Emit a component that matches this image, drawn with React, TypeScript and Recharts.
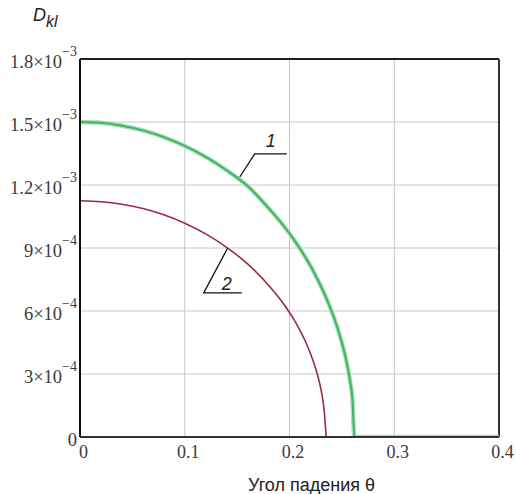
import React from 'react';
import {
  ComposedChart,
  Line,
  Scatter,
  XAxis,
  YAxis,
  CartesianGrid,
  ReferenceLine,
} from 'recharts';

// Curve 1 (green): incidence angle θ vs D_kl
const curve1Theta = [0, 0.02, 0.04, 0.06, 0.08, 0.1, 0.12, 0.14, 0.16, 0.18, 0.19, 0.2, 0.205, 0.21, 0.215, 0.22, 0.225, 0.23, 0.235, 0.24, 0.245, 0.25, 0.255, 0.258, 0.26, 0.262, 0.4];
const curve1D = [1.5e-3, 1.496e-3, 1.482e-3, 1.46e-3, 1.428e-3, 1.386e-3, 1.334e-3, 1.27e-3, 1.195e-3, 1.09e-3, 1.033e-3, 0.969e-3, 0.934e-3, 0.897e-3, 0.857e-3, 0.815e-3, 0.768e-3, 0.718e-3, 0.663e-3, 0.602e-3, 0.532e-3, 0.449e-3, 0.345e-3, 0.261e-3, 0.186e-3, 0, 0];

// Curve 2 (red)
const curve2Theta = [0, 0.02, 0.04, 0.06, 0.08, 0.1, 0.12, 0.14, 0.16, 0.18, 0.19, 0.2, 0.205, 0.21, 0.215, 0.22, 0.225, 0.228, 0.23, 0.232, 0.233, 0.235];
const curve2D = [1.125e-3, 1.12e-3, 1.108e-3, 1.088e-3, 1.058e-3, 1.018e-3, 0.967e-3, 0.903e-3, 0.824e-3, 0.723e-3, 0.663e-3, 0.593e-3, 0.553e-3, 0.508e-3, 0.457e-3, 0.398e-3, 0.326e-3, 0.272e-3, 0.228e-3, 0.17e-3, 0.13e-3, 0];

// Leader lines for curve labels
const leader1Theta = [0.1525, 0.1668, 0.1974];
const leader1D = [1.238e-3, 1.348e-3, 1.348e-3];
const leader2Theta = [0.141, 0.1181, 0.1544];
const leader2D = [0.9e-3, 0.686e-3, 0.686e-3];

const curveLabels = ['1', '2'];
const curveLabelTheta = [0.1821, 0.14];
const curveLabelD = [1.381e-3, 0.7e-3];

// Axis ticks
const xTicks = [0, 0.1, 0.2, 0.3, 0.4];
const xTickLabels = ['0', '0.1', '0.2', '0.3', '0.4'];
const yTicks = [0, 3e-4, 6e-4, 9e-4, 1.2e-3, 1.5e-3, 1.8e-3];
const yTickMantissa = ['0', '3×10', '6×10', '9×10', '1.2×10', '1.5×10', '1.8×10'];
const yTickExponent = ['', '−4', '−4', '−4', '−3', '−3', '−3'];

const xTitle = 'Угол падения θ';

const zip = (xs: number[], ys: number[]) => xs.map((x, i) => ({ x, y: ys[i] }));
const curve1 = zip(curve1Theta, curve1D);
const curve2 = zip(curve2Theta, curve2D);
const leader1 = zip(leader1Theta, leader1D);
const leader2 = zip(leader2Theta, leader2D);
const labelPoints = curveLabels.map((t, i) => ({ x: curveLabelTheta[i], y: curveLabelD[i], t }));

const serif = '"Liberation Serif", "Times New Roman", serif';
const sans = '"Liberation Sans", Arial, sans-serif';

const YTick = (props: any) => {
  const { x, y, payload } = props;
  const i = yTicks.findIndex((v) => Math.abs(v - payload.value) < 1e-9);
  const m = i >= 0 ? yTickMantissa[i] : String(payload.value);
  const e = i >= 0 ? yTickExponent[i] : '';
  return (
    <text x={x} y={y + 9} textAnchor="end" fontFamily={serif} fontSize={18.5} fill="#3a3a3a">
      {m}
      {e && (
        <tspan dy={-12} fontSize={14}>
          {e}
        </tspan>
      )}
    </text>
  );
};

const XTick = (props: any) => {
  const { x, y, payload } = props;
  const i = xTicks.findIndex((v) => Math.abs(v - payload.value) < 1e-9);
  return (
    <text x={x + 3.5} y={y + 21} textAnchor="middle" fontFamily={serif} fontSize={18} fill="#3a3a3a">
      {i >= 0 ? xTickLabels[i] : payload.value}
    </text>
  );
};

const XTitle = (props: any) => {
  const vb = props.viewBox || { x: 80, y: 437 };
  return (
    <text x={vb.x + 168} y={vb.y + 54} fontFamily={sans} fontSize={18} fill="#222">
      {xTitle}
    </text>
  );
};

const YTitle = (props: any) => {
  const vb = props.viewBox || { x: 0, y: 59 };
  return (
    <text x={vb.x + 33} y={vb.y - 38} fontFamily={sans} fontSize={18} fontStyle="italic" fill="#222">
      D
      <tspan dy={6} fontSize={16}>
        kl
      </tspan>
    </text>
  );
};

const LabelShape = (props: any) => {
  const { cx, cy, payload } = props;
  return (
    <text x={cx} y={cy} textAnchor="middle" fontFamily={sans} fontSize={18} fontStyle="italic" fill="#222">
      {payload.t}
    </text>
  );
};

export default function App() {
  return (
    <div style={{ position: 'absolute', left: 0, top: 0, background: '#fff' }}>
      <ComposedChart width={516} height={494} margin={{ top: 59, right: 17, left: 0, bottom: 0 }}>
        <CartesianGrid stroke="#c4c8cc" strokeWidth={1} />
        <XAxis
          type="number"
          dataKey="x"
          domain={[0, 0.4]}
          ticks={xTicks}
          height={57}
          tickSize={0}
          tickMargin={0}
          tick={<XTick />}
          axisLine={{ stroke: '#333', strokeWidth: 2 }}
          label={<XTitle />}
          allowDataOverflow
        />
        <YAxis
          type="number"
          dataKey="y"
          domain={[0, 1.8e-3]}
          ticks={yTicks}
          width={80}
          tickSize={0}
          tickMargin={3}
          tick={<YTick />}
          axisLine={{ stroke: '#111', strokeWidth: 2 }}
          label={<YTitle />}
          allowDataOverflow
        />
        <ReferenceLine y={1.8e-3} stroke="#222" strokeWidth={2} />
        <ReferenceLine x={0.4} stroke="#333" strokeWidth={2} />
        <Line
          data={curve2}
          dataKey="y"
          type="monotone"
          stroke="#9e2a3c"
          strokeWidth={1.6}
          dot={false}
          isAnimationActive={false}
        />
        <Line
          data={curve1}
          dataKey="y"
          type="monotone"
          stroke="#a9dfb8"
          strokeWidth={4.5}
          dot={false}
          isAnimationActive={false}
        />
        <Line
          data={curve1}
          dataKey="y"
          type="monotone"
          stroke="#3fb463"
          strokeWidth={2}
          dot={false}
          isAnimationActive={false}
        />
        <Line data={leader1} dataKey="y" type="linear" stroke="#111" strokeWidth={1.3} dot={false} isAnimationActive={false} />
        <Line data={leader2} dataKey="y" type="linear" stroke="#111" strokeWidth={1.3} dot={false} isAnimationActive={false} />
        <Scatter data={labelPoints} dataKey="y" shape={<LabelShape />} isAnimationActive={false} />
      </ComposedChart>
    </div>
  );
}
